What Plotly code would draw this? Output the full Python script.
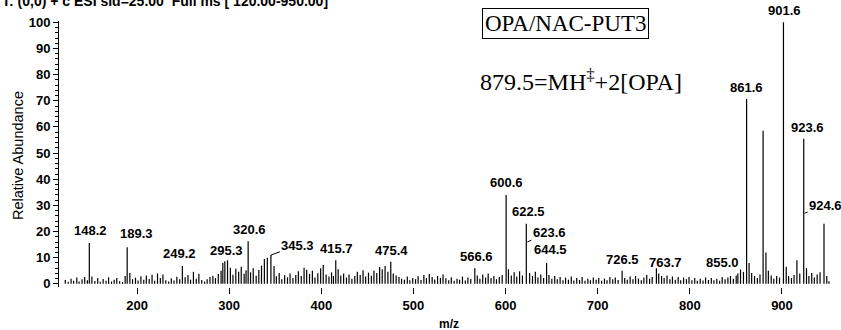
import plotly.graph_objects as go

# ---- data ----
major_mz = [148.2, 189.3, 249.2, 293.1, 295.3, 320.6, 341.4, 345.3, 415.7, 475.4, 566.6,
            600.6, 622.5, 644.5, 726.5, 763.7, 855.0, 861.6, 879.5, 901.6, 923.6, 945.6]
major_int = [15.6, 14.0, 6.8, 8.0, 8.6, 16.3, 10.0, 11.0, 9.0, 8.5, 6.0,
             34.0, 23.0, 8.0, 5.0, 6.0, 5.5, 70.7, 58.5, 100.0, 55.5, 23.0]

noise_peaks = [
    [122.1, 1.5], [125.3, 0.8], [128.4, 2.0], [131.2, 1.2], [134.6, 2.4], [137.1, 0.9],
    [140.3, 1.8], [143.2, 2.6], [146.1, 1.4], [151.0, 2.8], [154.2, 1.1], [157.3, 2.2],
    [160.1, 0.8], [163.2, 1.9], [166.4, 1.2], [169.1, 2.5], [172.3, 0.9], [175.2, 1.6],
    [178.0, 2.2], [181.1, 1.0], [184.2, 0.7], [187.1, 3.0], [192.2, 4.2], [195.1, 1.8],
    [198.3, 2.4], [201.1, 1.3], [204.2, 2.9], [207.3, 1.6], [210.1, 3.2], [213.2, 1.9],
    [216.3, 3.5], [219.1, 1.2], [222.2, 4.0], [225.3, 2.2], [228.1, 3.6], [231.2, 1.4],
    [234.3, 0.9], [237.2, 2.1], [240.1, 1.3], [243.2, 2.7], [246.3, 1.8], [252.2, 2.5],
    [255.3, 3.4], [258.1, 1.6], [261.2, 4.6], [264.3, 2.0], [267.1, 3.9], [270.2, 1.5],
    [273.3, 0.9], [276.1, 1.8], [279.2, 2.6], [282.3, 3.1], [285.1, 2.2], [288.2, 3.8],
    [291.2, 5.0], [298.2, 9.0], [301.3, 6.2], [304.1, 3.5], [307.2, 5.8], [310.3, 4.6],
    [313.1, 6.5], [316.2, 3.9], [318.3, 5.2], [323.2, 4.4], [326.1, 6.0], [329.3, 3.1],
    [332.2, 5.3], [335.1, 7.0], [338.2, 9.5], [348.7, 6.8], [351.2, 2.9], [354.3, 4.2],
    [357.1, 1.8], [360.2, 3.3], [363.3, 2.5], [366.1, 4.0], [369.2, 2.2], [372.3, 3.4],
    [375.1, 4.8], [378.2, 3.0], [381.3, 6.2], [384.1, 5.4], [387.2, 3.8], [390.3, 5.0],
    [393.1, 2.4], [396.2, 4.1], [399.3, 6.0], [402.1, 7.2], [405.2, 3.6], [408.3, 2.8],
    [411.1, 4.4], [413.2, 3.0], [418.3, 5.6], [421.1, 3.2], [424.2, 4.0], [427.3, 2.4],
    [430.1, 3.6], [433.2, 2.0], [436.3, 3.0], [439.1, 4.6], [442.2, 3.4], [445.3, 5.2],
    [448.1, 2.8], [451.2, 4.3], [454.3, 3.1], [457.1, 5.0], [460.2, 4.2], [463.3, 6.4],
    [466.1, 5.6], [469.2, 6.8], [472.3, 4.6], [478.1, 4.0], [481.2, 3.2], [484.3, 2.6],
    [487.1, 2.0], [490.2, 1.6], [493.3, 2.8], [496.1, 1.4], [499.2, 2.2], [502.3, 1.8],
    [505.1, 2.9], [508.2, 1.5], [511.3, 3.4], [514.1, 2.2], [517.2, 3.8], [520.3, 2.6],
    [523.1, 1.7], [526.2, 3.0], [529.3, 2.3], [532.1, 3.6], [535.2, 2.1], [538.3, 1.4],
    [541.1, 2.5], [544.2, 1.2], [547.3, 2.0], [550.1, 1.6], [553.2, 2.8], [556.3, 1.3],
    [559.1, 2.4], [562.2, 1.9], [569.3, 3.2], [572.1, 2.0], [575.2, 3.6], [578.3, 2.4],
    [581.1, 4.0], [584.2, 2.2], [587.3, 3.0], [590.1, 1.8], [593.2, 2.6], [596.3, 3.4],
    [603.1, 5.6], [606.2, 3.2], [609.3, 4.4], [612.1, 2.8], [615.2, 4.8], [618.3, 3.2],
    [626.1, 4.2], [629.2, 3.0], [632.3, 4.6], [635.1, 2.4], [638.2, 3.6], [641.3, 2.2],
    [647.1, 3.4], [650.2, 2.0], [653.3, 3.0], [656.1, 1.8], [659.2, 2.6], [662.3, 1.4],
    [665.1, 2.4], [668.2, 1.6], [671.3, 2.8], [674.1, 1.3], [677.2, 2.2], [680.3, 1.5],
    [683.1, 2.6], [686.2, 1.2], [689.3, 2.0], [692.1, 1.4], [695.2, 2.4], [698.3, 1.6],
    [701.1, 2.2], [704.2, 1.2], [707.3, 2.0], [710.1, 1.4], [713.2, 2.6], [716.3, 1.8],
    [719.1, 2.4], [722.2, 1.5], [729.3, 2.2], [732.1, 1.6], [735.2, 2.8], [738.3, 1.8],
    [741.1, 3.0], [744.2, 2.0], [747.3, 1.4], [750.1, 2.4], [753.2, 3.4], [756.3, 2.0],
    [759.1, 2.6], [766.2, 4.0], [769.3, 3.0], [772.1, 2.2], [775.2, 3.2], [778.3, 1.8],
    [781.1, 2.8], [784.2, 1.6], [787.3, 2.6], [790.1, 1.4], [793.2, 2.4], [796.3, 1.8],
    [799.1, 2.6], [802.2, 1.4], [805.3, 2.2], [808.1, 1.2], [811.2, 2.0], [814.3, 1.3],
    [817.1, 2.4], [820.2, 1.5], [823.3, 2.2], [826.1, 1.4], [829.2, 2.0], [832.3, 1.2],
    [835.1, 2.6], [838.2, 1.8], [841.3, 2.4], [844.1, 3.0], [847.2, 2.0], [850.3, 3.2],
    [852.1, 4.0], [858.2, 4.6], [864.3, 8.0], [867.1, 4.2], [870.2, 3.0], [873.3, 2.2],
    [876.1, 3.6], [882.6, 12.0], [885.2, 5.0], [888.3, 3.2], [891.1, 2.0], [894.2, 3.0],
    [897.3, 2.4], [904.6, 6.5], [907.2, 3.0], [910.3, 2.2], [913.1, 3.4], [916.2, 9.0],
    [919.3, 4.0], [926.6, 6.0], [929.2, 3.0], [932.3, 4.2], [935.1, 2.4], [938.2, 3.6],
    [941.3, 4.4], [948.6, 3.0], [951.0, 1.0],
]

label_texts = ["148.2", "189.3", "249.2", "295.3", "320.6", "345.3", "415.7", "475.4",
               "566.6", "600.6", "622.5", "623.6", "644.5", "726.5", "763.7", "855.0",
               "861.6", "901.6", "923.6", "924.6"]
# where each label points: (m/z, relative abundance)
label_mz = [148.2, 189.3, 249.2, 295.3, 320.6, 345.3, 415.7, 475.4, 566.6, 600.6, 622.5,
            623.6, 644.5, 726.5, 763.7, 855.0, 861.6, 901.6, 923.6, 924.6]
label_int = [15.6, 14.0, 6.8, 8.6, 16.3, 11.0, 9.0, 8.5, 6.0, 34.0, 23.0,
             16.0, 8.0, 5.0, 6.0, 5.5, 70.7, 100.0, 55.5, 27.0]

x_ticks = [200, 300, 400, 500, 600, 700, 800, 900]
y_ticks = [0, 10, 20, 30, 40, 50, 60, 70, 80, 90, 100]

header_text = "T: (0,0) + c ESI sid=25.00  Full ms [ 120.00-950.00]"
box_text = "OPA/NAC-PUT3"
formula_text = "879.5=MH<sup>‡</sup>+2[OPA]"
x_title = "m/z"
y_title = "Relative Abundance"

# ---- layout geometry (pixels) ----
W, H = 841, 330
ML, MR, MT, MB = 59, 10, 21, 43
PW, PH = W - ML - MR, H - MT - MB


def paper_x(px):
    return (px - ML) / PW


def paper_y(py):
    return (H - MB - py) / PH


# label placement (pixels): (xshift, yshift) for plain, (ax, ay) for leader lines
plain_shift = {"148.2": (1, 3), "189.3": (9, 4), "249.2": (-3, 3), "295.3": (2, 1),
               "320.6": (1, 2), "415.7": (1, 2), "475.4": (1, 2), "566.6": (2, 2),
               "600.6": (0, 3), "622.5": (2, 3), "644.5": (4, 4), "726.5": (0, 2),
               "861.6": (0, 2), "901.6": (1, 2), "923.6": (4, 2)}
leader = {"345.3": (27, -10), "623.6": (22, -10), "763.7": (9, -6),
          "855.0": (-18, -7), "924.6": (21, -8)}

# ---- sticks ----
all_mz = major_mz + [p[0] for p in noise_peaks]
all_int = major_int + [p[1] for p in noise_peaks]
xs, ys = [], []
for m, h in zip(all_mz, all_int):
    xs += [m, m, None]
    ys += [0, h, None]

fig = go.Figure()
fig.add_trace(go.Scatter(x=xs, y=ys, mode="lines",
                         line=dict(color="black", width=1.2),
                         hoverinfo="skip", showlegend=False, cliponaxis=False))

SANS = "Liberation Sans, Arial"
SERIF = "Liberation Serif, Times New Roman"
lab_font = dict(family=SANS, size=13, color="black", weight="bold")

annotations = []
for t, m, h in zip(label_texts, label_mz, label_int):
    if t in leader:
        ax, ay = leader[t]
        annotations.append(dict(x=m, y=h, xref="x", yref="y", text=t, showarrow=True,
                                arrowhead=0, arrowwidth=1, arrowcolor="black",
                                ax=ax, ay=ay, standoff=0, font=lab_font,
                                xanchor="center", yanchor="middle"))
    else:
        dx, dy = plain_shift.get(t, (0, 2))
        annotations.append(dict(x=m, y=h, xref="x", yref="y", text=t, showarrow=False,
                                xanchor="center", yanchor="bottom", xshift=dx, yshift=dy,
                                font=lab_font))

annotations.append(dict(x=paper_x(0), y=paper_y(1), xref="paper", yref="paper",
                        xanchor="left", yanchor="middle", text=header_text,
                        showarrow=False,
                        font=dict(family=SANS, size=14, color="black", weight="bold")))
annotations.append(dict(x=paper_x(565), y=paper_y(24), xref="paper", yref="paper",
                        xanchor="center", yanchor="middle", text=box_text,
                        showarrow=False, bordercolor="black", borderwidth=1, borderpad=2,
                        font=dict(family=SERIF, size=23, color="black")))
annotations.append(dict(x=paper_x(581), y=paper_y(80), xref="paper", yref="paper",
                        xanchor="center", yanchor="middle", text=formula_text,
                        showarrow=False,
                        font=dict(family=SERIF, size=24, color="black")))
annotations.append(dict(x=paper_x(449), y=paper_y(324), xref="paper", yref="paper",
                        xanchor="center", yanchor="middle", text=x_title,
                        showarrow=False,
                        font=dict(family=SANS, size=12, color="black", weight="bold")))
annotations.append(dict(x=paper_x(18), y=paper_y(156), xref="paper", yref="paper",
                        xanchor="center", yanchor="middle", text=y_title, textangle=-90,
                        showarrow=False,
                        font=dict(family=SANS, size=14.5, color="black")))

fig.update_layout(
    width=W, height=H,
    margin=dict(l=ML, r=MR, t=MT, b=MB, autoexpand=False),
    paper_bgcolor="white", plot_bgcolor="white",
    showlegend=False,
    xaxis=dict(range=[115.3, 953.2], tickvals=x_ticks, ticktext=[str(v) for v in x_ticks],
               showline=False, showgrid=False, zeroline=False, ticks="outside",
               ticklen=6, tickwidth=1, tickcolor="black", automargin=False,
               tickfont=dict(family=SANS, size=13, color="black", weight="bold")),
    yaxis=dict(range=[-1.2, 100.5], tickvals=y_ticks, ticktext=[str(v) for v in y_ticks],
               showline=True, linecolor="black", linewidth=1, showgrid=False,
               zeroline=False, ticks="outside", ticklen=5, tickwidth=1, tickcolor="black",
               automargin=False,
               minor=dict(dtick=2, ticks="outside", ticklen=3, tickcolor="black",
                          showgrid=False),
               tickfont=dict(family=SANS, size=13, color="black", weight="bold")),
    annotations=annotations,
)

fig.write_html("out.html")
